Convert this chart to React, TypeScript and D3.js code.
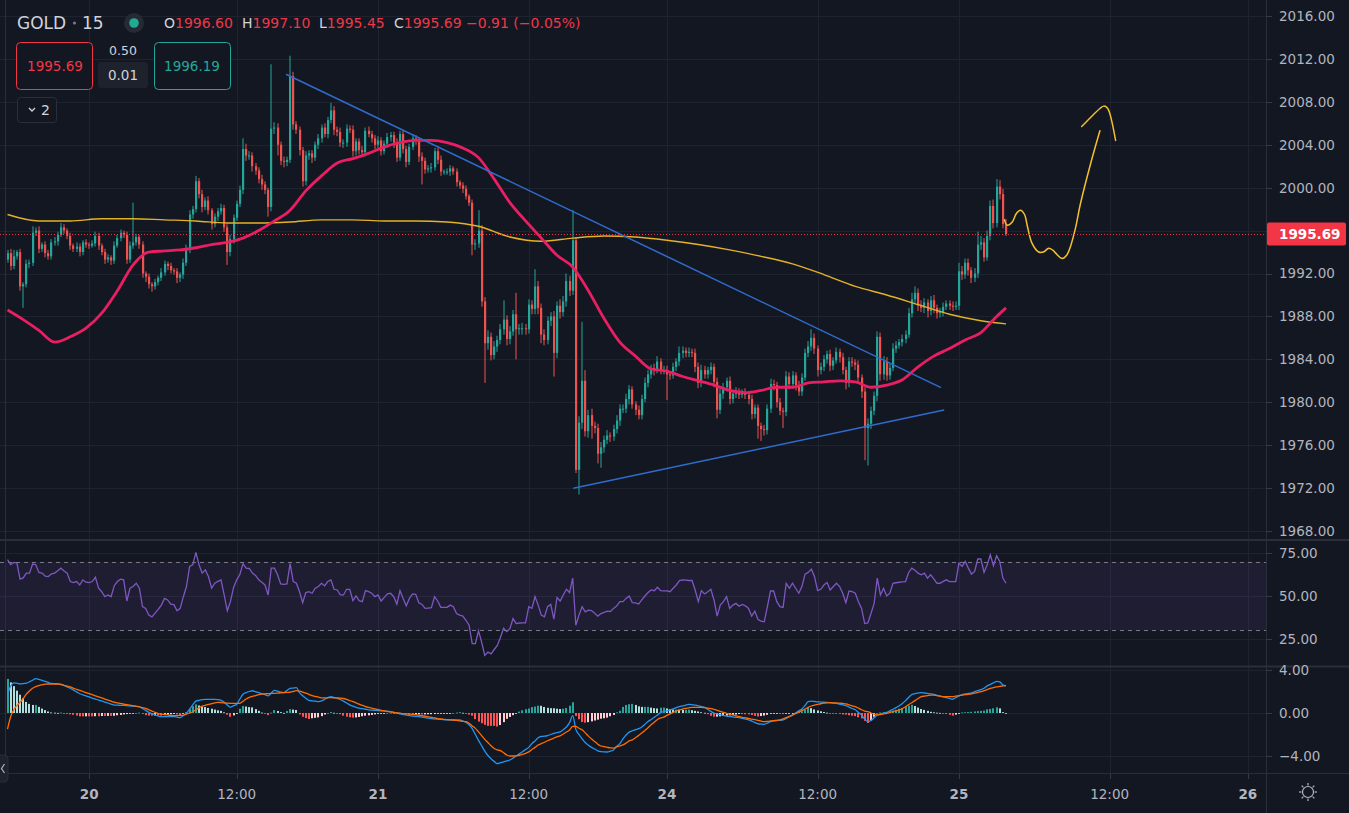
import React from 'react';
import * as d3 from 'd3';

const W = 1349;
const H = 813;
const PLOT_R = 1266;

// ---------- DATA ----------
const firstOpen = 1993.3;
const closes = [
  1993.9, 1992.7, 1993.6, 1994.0, 1990.8, 1991.0, 1992.9, 1993.0, 1995.8, 1996.0,
  1994.3, 1994.7, 1993.9, 1993.6, 1994.9, 1995.0, 1995.6, 1996.3, 1996.0, 1995.5,
  1994.6, 1994.3, 1994.5, 1994.0, 1994.9, 1994.7, 1994.6, 1994.8, 1995.5, 1994.6,
  1994.0, 1993.3, 1993.5, 1993.2, 1994.6, 1995.3, 1995.8, 1995.6, 1993.3, 1994.6,
  1994.9, 1995.4, 1994.7, 1992.0, 1991.7, 1991.0, 1990.8, 1991.2, 1991.6, 1992.1,
  1992.9, 1992.7, 1992.3, 1992.2, 1991.6, 1991.9, 1993.0, 1994.2, 1997.5, 1998.0,
  2000.6, 1999.4, 1998.2, 1998.8, 1997.9, 1996.6, 1997.3, 1997.8, 1998.1, 1996.3,
  1994.0, 1995.2, 1997.2, 1998.5, 1999.8, 2003.6, 2003.0, 2003.0, 2002.0, 2001.6,
  2000.8, 2000.3, 1999.8, 1998.2, 2005.5, 2005.6, 2004.0, 2002.5, 2002.4, 2002.6,
  2010.4, 2005.9, 2005.4, 2003.5, 2000.6, 2003.0, 2003.2, 2002.8, 2004.0, 2004.6,
  2005.6, 2005.0, 2006.3, 2007.2, 2005.4, 2005.2, 2004.2, 2004.2, 2005.5, 2005.4,
  2003.4, 2004.3, 2003.5, 2003.3, 2005.3, 2005.0, 2004.6, 2004.0, 2004.4, 2003.4,
  2004.1, 2004.7, 2004.9, 2004.2, 2002.8, 2005.0, 2003.6, 2002.4, 2003.8, 2004.6,
  2004.4, 2002.9, 2002.5, 2001.7, 2001.8, 2001.9, 2003.4, 2002.6, 2001.5, 2001.5,
  2001.5, 2001.8, 2001.5, 2000.5, 2000.2, 1999.9, 1999.2, 1998.6, 1994.7, 1994.8,
  1996.0, 1989.4, 1985.5, 1986.1, 1984.4, 1985.2, 1985.8, 1986.8, 1987.7, 1985.9,
  1986.6, 1988.2, 1986.8, 1986.9, 1986.9, 1986.8, 1989.1, 1988.7, 1990.8, 1988.8,
  1986.3, 1985.8, 1987.6, 1988.0, 1984.6, 1989.0, 1988.4, 1989.4, 1991.3, 1990.4,
  1995.1, 1973.7, 1978.1, 1982.0, 1977.3, 1978.8, 1977.8, 1977.6, 1975.2, 1975.8,
  1976.5, 1976.9, 1976.8, 1977.5, 1978.3, 1979.4, 1979.4, 1980.3, 1981.2, 1979.8,
  1979.3, 1978.8, 1980.3, 1981.8, 1982.6, 1983.2, 1983.0, 1983.8, 1983.0, 1983.0,
  1982.6, 1982.5, 1983.3, 1983.8, 1984.6, 1984.8, 1984.6, 1984.7, 1984.6, 1983.3,
  1981.8, 1983.0, 1982.6, 1983.0, 1983.3, 1981.9, 1979.3, 1980.8, 1981.4, 1982.0,
  1980.3, 1980.8, 1981.0, 1980.7, 1980.9, 1980.7, 1980.3, 1978.9, 1979.5, 1977.8,
  1977.5, 1977.4, 1979.4, 1981.7, 1981.6, 1980.0, 1979.2, 1979.1, 1982.4, 1981.7,
  1982.5, 1981.6, 1981.0, 1982.3, 1984.6, 1985.2, 1986.0, 1985.0, 1983.0, 1983.3,
  1984.0, 1984.5, 1983.4, 1983.9, 1984.7, 1984.2, 1983.0, 1981.8, 1983.8, 1983.7,
  1983.5, 1982.3, 1981.0, 1977.6, 1978.0, 1979.2, 1980.6, 1986.1, 1982.6, 1983.8,
  1982.5, 1983.2, 1985.0, 1985.3, 1985.6, 1985.9, 1986.3, 1988.3, 1989.6, 1990.2,
  1989.0, 1988.8, 1989.3, 1988.5, 1989.5, 1988.8, 1988.3, 1988.4, 1988.9, 1989.2,
  1989.0, 1988.9, 1989.0, 1992.2, 1991.9, 1993.0, 1992.3, 1991.6, 1992.0, 1994.7,
  1994.9, 1993.5, 1995.5, 1998.3, 1996.7, 2000.1, 1999.4, 1996.6, 1995.69,
];
// wick lengths above / below the body, in tenths of a dollar
const wickUp = [
  3,4,6,2,3,2,4,3,6,3, 4,2,3,3,3,4,3,4,3,2, 3,2,4,3,2,3,2,3,4,3, 2,3,3,2,4,3,3,2,3,4,
  37,3,2,3,2,3,2,3,2,4, 3,2,3,2,3,2,4,5,4,3, 5,3,4,3,4,2,3,3,4,3, 3,4,3,3,4,10,5,4,3,3,
  3,4,3,2,60,5,4,3,4,3, 19,4,3,3,3,4,3,3,3,4, 3,4,3,7,4,3,4,3,4,3, 4,3,3,4,3,4,3,3,4,3,
  3,4,3,3,4,3,4,3,3,4, 3,3,4,3,3,4,3,3,4,2, 3,3,2,3,2,3,3,2,3,4, 19,5,4,6,4,5,4,5,18,4,
  5,4,20,4,5,4,5,4,16,5, 4,5,4,4,5,4,6,5,7,5, 28,3,6,55,10,5,6,4,4,5, 4,5,3,4,5,4,4,5,4,3,
  3,4,4,5,4,3,4,5,3,4, 4,3,4,3,6,4,3,4,3,4, 4,5,4,3,4,3,4,5,4,3, 4,3,4,3,3,4,3,4,3,3,
  3,4,4,5,4,3,4,3,5,4, 4,3,4,4,4,5,8,4,3,4, 4,3,4,3,4,3,4,3,4,4, 3,4,3,4,5,4,4,5,4,5,
  4,4,5,4,3,4,4,5,6,6, 4,5,4,3,4,5,3,4,4,3, 3,4,4,8,5,4,4,3,5,12, 6,4,5,5,6,7,6,5,5,
];
const wickDn = [
  3,4,3,3,4,20,3,4,3,3, 4,3,4,3,3,3,4,2,3,3, 4,3,3,4,3,3,3,2,3,4, 3,4,3,4,3,2,3,3,4,3,
  3,3,4,4,5,4,5,3,3,3, 3,4,3,3,5,4,4,3,3,4, 3,4,5,3,4,5,3,4,3,4, 12,4,4,3,3,4,5,4,5,4,
  4,5,4,9,4,5,10,4,5,4, 3,5,4,5,5,4,4,5,3,4, 4,3,4,3,5,4,4,5,4,3, 5,4,4,3,4,3,4,4,3,4,
  3,4,4,5,4,3,4,5,3,3, 4,5,22,4,3,4,3,4,4,3, 3,4,3,4,3,4,3,3,10,5, 4,5,37,6,5,4,5,4,5,6,
  5,4,28,5,6,5,4,5,5,6, 8,5,4,5,22,5,6,4,5,5, 4,3,23,6,5,6,12,5,9,13, 5,4,5,4,4,5,4,4,5,4,
  5,4,4,3,4,4,5,3,4,4, 24,4,3,4,4,5,4,4,4,5, 5,4,4,4,4,5,8,4,5,4, 5,4,4,4,3,4,5,5,4,12,
  11,5,4,4,5,5,4,15,4,5, 4,5,4,4,3,4,4,5,6,4, 4,4,5,4,3,5,4,6,4,4, 5,4,6,30,35,5,4,5,6,5,
  5,4,3,4,3,4,4,3,4,4, 5,4,5,6,4,5,5,4,4,3, 4,4,3,4,5,4,5,5,4,4, 5,4,3,4,5,4,5,4,2,
];
const rsiValues = [
  71.1, 68.2, 69.5, 69.1, 59.8, 60.5, 63.3, 63.3, 68.6, 68.2,
  63.7, 63.3, 61.5, 61.3, 62.9, 63.3, 64.7, 66.2, 64.5, 63.3,
  58.4, 57.8, 58.4, 56.4, 59.4, 58.0, 57.8, 58.4, 60.9, 54.5,
  52.5, 49.6, 50.6, 49.6, 56.0, 58.4, 59.8, 59.4, 47.1, 54.5,
  55.5, 57.4, 54.5, 43.8, 42.8, 38.9, 37.9, 40.0, 42.2, 44.7,
  48.6, 47.7, 45.3, 45.0, 41.4, 42.8, 49.6, 55.5, 67.2, 68.2,
  75.4, 68.2, 63.3, 65.2, 61.3, 54.5, 57.4, 58.5, 59.4, 50.6,
  41.4, 46.7, 55.0, 59.4, 62.5, 68.8, 66.2, 66.0, 63.3, 62.0,
  59.4, 58.0, 56.4, 50.6, 66.2, 66.2, 62.3, 57.0, 56.8, 57.0,
  68.8, 58.4, 57.4, 52.5, 46.1, 52.0, 52.5, 51.6, 54.5, 55.5,
  57.4, 55.9, 58.4, 59.4, 53.9, 53.5, 50.6, 50.6, 53.9, 53.9,
  47.3, 50.0, 47.3, 46.7, 53.1, 52.5, 51.6, 49.6, 50.6, 47.1,
  49.2, 51.2, 51.6, 49.6, 45.3, 53.1, 48.6, 44.3, 48.6, 51.2,
  51.0, 46.1, 45.1, 42.8, 43.0, 43.2, 49.6, 47.1, 43.4, 43.4,
  43.4, 44.7, 43.8, 39.8, 38.9, 38.3, 35.9, 33.0, 22.3, 22.3,
  29.7, 23.2, 15.4, 17.4, 16.4, 18.9, 21.3, 26.0, 31.3, 29.3,
  31.0, 36.9, 34.0, 34.3, 34.4, 34.4, 43.8, 42.8, 49.6, 44.7,
  38.9, 37.9, 43.8, 45.1, 36.5, 49.2, 47.1, 50.6, 53.9, 52.0,
  60.4, 33.0, 38.9, 43.8, 40.8, 41.8, 41.5, 40.0, 38.3, 39.8,
  40.5, 41.2, 41.0, 42.8, 44.1, 46.7, 46.7, 48.6, 50.0, 46.1,
  46.0, 45.3, 47.7, 50.0, 52.0, 53.5, 53.1, 55.1, 53.1, 53.0,
  53.0, 52.5, 54.5, 56.4, 59.0, 59.4, 59.2, 59.0, 59.0, 53.5,
  46.7, 53.1, 51.2, 52.5, 53.9, 47.7, 38.3, 44.7, 46.7, 49.6,
  42.8, 44.7, 45.7, 44.1, 45.1, 44.3, 42.8, 38.3, 41.2, 36.3,
  35.4, 35.0, 43.8, 52.9, 52.9, 46.7, 43.8, 43.4, 57.4, 54.5,
  57.4, 54.5, 51.6, 55.5, 62.7, 63.7, 65.6, 61.3, 53.1, 53.9,
  56.4, 57.8, 53.5, 55.5, 57.4, 55.5, 51.6, 46.1, 52.9, 52.5,
  51.6, 46.7, 42.8, 34.0, 34.4, 39.8, 45.7, 60.4, 50.6, 54.5,
  50.0, 51.6, 57.4, 57.7, 58.0, 58.2, 58.4, 63.7, 66.2, 65.0,
  63.3, 62.3, 63.3, 60.4, 62.3, 60.0, 57.4, 57.4, 58.5, 59.4,
  58.4, 58.4, 58.4, 69.1, 67.2, 70.1, 66.2, 62.7, 64.3, 71.5,
  71.5, 63.7, 68.2, 74.0, 67.6, 73.4, 70.1, 60.4, 57.4,
];
const macdValues = [
  1.67, 2.5, 2.8, 2.78, 2.7, 2.74, 2.78, 2.9, 3.05, 3.2,
  3.12, 3.03, 2.95, 2.84, 2.75, 2.73, 2.71, 2.69, 2.56, 2.43,
  2.3, 2.13, 1.96, 1.79, 1.69, 1.59, 1.49, 1.39, 1.3, 1.2,
  1.12, 1.02, 0.93, 0.83, 0.74, 0.73, 0.71, 0.7, 0.68, 0.66,
  0.64, 0.62, 0.6, 0.42, 0.24, 0.06, -0.06, -0.17, -0.28, -0.34,
  -0.34, -0.34, -0.34, -0.34, -0.38, -0.43, -0.24, -0.03, 0.35, 0.75,
  1.1, 1.18, 1.24, 1.27, 1.27, 1.27, 1.27, 1.24, 1.17, 1.0,
  0.75, 0.55, 0.68, 0.82, 1.3, 1.75, 1.9, 2.0, 2.07, 1.98,
  1.9, 1.8, 1.7, 1.6, 1.85, 2.1, 2.04, 1.95, 1.9, 2.1,
  2.29, 2.32, 2.36, 1.9, 1.6, 1.38, 1.18, 1.13, 1.1, 1.06,
  1.12, 1.27, 1.42, 1.52, 1.44, 1.35, 1.27, 1.1, 0.93, 0.76,
  0.63, 0.53, 0.45, 0.4, 0.35, 0.3, 0.27, 0.25, 0.23, 0.21,
  0.18, 0.15, 0.12, 0.05, -0.02, -0.08, -0.14, -0.2, -0.25, -0.28,
  -0.31, -0.33, -0.38, -0.43, -0.48, -0.52, -0.55, -0.57, -0.6, -0.62,
  -0.64, -0.65, -0.65, -0.65, -0.65, -0.75, -0.88, -1.1, -1.45, -2.0,
  -2.55, -3.05, -3.55, -3.95, -4.25, -4.5, -4.7, -4.62, -4.55, -4.45,
  -4.37, -4.2, -4.0, -3.8, -3.6, -3.4, -3.2, -2.85, -2.6, -2.3,
  -2.18, -2.16, -2.1, -2.0, -1.89, -1.82, -1.75, -1.55, -1.3, -0.9,
  -0.25, -1.52, -2.0, -2.4, -2.75, -3.0, -3.2, -3.35, -3.52, -3.6,
  -3.62, -3.63, -3.55, -3.44, -3.1, -2.85, -2.4, -2.05, -1.78, -1.65,
  -1.55, -1.46, -1.3, -1.05, -0.8, -0.6, -0.4, -0.18, 0.03, 0.12,
  0.2, 0.28, 0.38, 0.5, 0.59, 0.66, 0.74, 0.8, 0.78, 0.73,
  0.67, 0.6, 0.52, 0.35, 0.15, 0.0, -0.09, -0.15, -0.22, -0.28,
  -0.32, -0.36, -0.4, -0.43, -0.5, -0.57, -0.63, -0.75, -0.88, -1.0,
  -1.03, -1.05, -0.95, -0.8, -0.74, -0.71, -0.68, -0.65, -0.5, -0.35,
  -0.2, 0.0, 0.2, 0.38, 0.7, 1.05, 1.1, 1.07, 1.04, 1.02,
  1.0, 0.98, 0.95, 0.92, 0.9, 0.83, 0.76, 0.69, 0.55, 0.42,
  0.3, 0.05, -0.2, -0.55, -0.81, -0.7, -0.45, -0.19, -0.1, -0.02,
  0.06, 0.2, 0.35, 0.5, 0.68, 0.88, 1.15, 1.45, 1.72, 1.8,
  1.85, 1.89, 1.86, 1.82, 1.78, 1.73, 1.65, 1.58, 1.51, 1.43,
  1.35, 1.28, 1.42, 1.58, 1.72, 1.77, 1.82, 1.88, 1.98, 2.08,
  2.18, 2.3, 2.52, 2.67, 2.8, 2.95, 2.9, 2.6, 2.54,
];
const signalValues = [
  -1.5, -0.35, 0.3, 0.7, 1.0, 1.35, 1.75, 2.05, 2.3, 2.45,
  2.55, 2.62, 2.68, 2.7, 2.7, 2.7, 2.7, 2.65, 2.58, 2.51,
  2.42, 2.3, 2.2, 2.1, 2.0, 1.9, 1.8, 1.7, 1.6, 1.5,
  1.4, 1.3, 1.2, 1.1, 1.0, 0.94, 0.89, 0.83, 0.78, 0.73,
  0.68, 0.62, 0.56, 0.5, 0.44, 0.3, 0.18, 0.06, -0.05, -0.1,
  -0.14, -0.18, -0.22, -0.25, -0.24, -0.22, -0.19, -0.1, 0.0, 0.12,
  0.3, 0.48, 0.64, 0.72, 0.8, 0.87, 0.95, 0.99, 0.97, 0.94,
  0.91, 0.9, 0.9, 0.9, 0.9, 1.1, 1.3, 1.45, 1.55, 1.62,
  1.7, 1.76, 1.78, 1.8, 1.82, 1.83, 1.85, 1.87, 1.89, 1.91,
  1.93, 2.0, 2.08, 2.03, 1.95, 1.85, 1.74, 1.62, 1.55, 1.47,
  1.41, 1.41, 1.42, 1.43, 1.42, 1.4, 1.38, 1.35, 1.27, 1.16,
  1.06, 0.94, 0.82, 0.7, 0.6, 0.52, 0.45, 0.38, 0.31, 0.25,
  0.2, 0.15, 0.1, 0.06, 0.02, -0.02, -0.06, -0.08, -0.1, -0.12,
  -0.16, -0.2, -0.24, -0.3, -0.36, -0.41, -0.46, -0.52, -0.56, -0.59,
  -0.62, -0.64, -0.65, -0.69, -0.73, -0.77, -0.81, -0.95, -1.2, -1.43,
  -1.75, -2.1, -2.45, -2.75, -3.05, -3.3, -3.44, -3.5, -3.7, -3.91,
  -4.0, -4.0, -3.98, -3.93, -3.85, -3.75, -3.62, -3.4, -3.2, -2.98,
  -2.85, -2.72, -2.58, -2.45, -2.33, -2.22, -2.12, -1.95, -1.77, -1.58,
  -1.25, -1.25, -1.42, -1.56, -1.85, -2.15, -2.42, -2.65, -2.9, -3.07,
  -3.13, -3.2, -3.25, -3.26, -3.16, -3.06, -2.97, -2.8, -2.6, -2.5,
  -2.3, -2.08, -1.87, -1.62, -1.37, -1.1, -0.85, -0.6, -0.46, -0.38,
  -0.22, -0.08, 0.06, 0.18, 0.28, 0.37, 0.43, 0.48, 0.52, 0.53,
  0.53, 0.53, 0.5, 0.46, 0.41, 0.34, 0.25, 0.16, 0.06, -0.03,
  -0.1, -0.18, -0.26, -0.34, -0.4, -0.45, -0.5, -0.56, -0.62, -0.68,
  -0.75, -0.81, -0.78, -0.74, -0.7, -0.68, -0.65, -0.55, -0.43, -0.32,
  -0.19, -0.05, 0.08, 0.22, 0.37, 0.52, 0.65, 0.74, 0.8, 0.86,
  0.91, 0.95, 0.96, 0.95, 0.93, 0.91, 0.9, 0.84, 0.76, 0.67,
  0.59, 0.45, 0.3, 0.18, 0.12, 0.0, -0.1, -0.19, -0.14, -0.08,
  -0.03, 0.05, 0.13, 0.2, 0.28, 0.42, 0.58, 0.78, 0.96, 1.15,
  1.35, 1.52, 1.57, 1.62, 1.67, 1.67, 1.62, 1.57, 1.52, 1.52,
  1.52, 1.52, 1.57, 1.62, 1.67, 1.7, 1.73, 1.77, 1.84, 1.91,
  1.98, 2.08, 2.18, 2.29, 2.36, 2.42, 2.47, 2.52, 2.54,
];
// moving averages (bar index, value)
const maFastBars = [
  0, 5, 10, 15, 20, 25, 30, 35, 40, 45, 50, 55, 60, 65, 70, 75, 80, 85, 90, 95,
  100, 105, 110, 115, 120, 125, 130, 135, 140, 145, 150, 155, 160, 165, 170, 175, 180, 185, 190, 195,
  200, 205, 210, 215, 220, 225, 230, 235, 240, 245, 250, 255, 260, 265, 270, 275, 280, 285, 290, 295,
  300, 305, 310, 315, 318,
];
const maFastValues = [
  1988.6, 1987.7, 1986.7, 1985.6, 1986.1, 1986.9, 1988.3, 1990.4, 1992.8, 1994.0,
  1994.1, 1994.2, 1994.4, 1994.7, 1994.9, 1995.3, 1996.0, 1996.9, 1997.9, 1999.7,
  2001.1, 2002.3, 2002.7, 2003.2, 2003.8, 2004.2, 2004.4, 2004.4, 2004.2, 2003.7,
  2002.8, 2000.8, 1998.6, 1996.9, 1995.3, 1993.7, 1992.6, 1990.4, 1987.8, 1985.6,
  1984.3, 1983.1, 1982.9, 1982.4, 1982.0, 1981.6, 1981.1, 1980.9, 1981.1, 1981.4,
  1981.4, 1981.8, 1981.9, 1982.0, 1981.9, 1981.4, 1981.6, 1982.1, 1983.3, 1984.3,
  1985.0, 1985.8, 1986.5, 1988.0, 1988.8,
];
const maSlowBars = [
  0, 10, 20, 30, 40, 50, 60, 70, 80, 90, 100, 110, 120, 130, 140, 150, 160,
  170, 180, 190, 200, 210, 220, 230, 240, 250, 260, 270, 280, 290, 300, 310, 318,
];
const maSlowValues = [
  1997.5, 1996.9, 1996.9, 1997.1, 1997.1, 1997.0, 1996.9, 1996.7, 1996.7, 1996.8, 1997.0, 1997.0,
  1996.9, 1996.9, 1996.8, 1996.4, 1995.4, 1995.0, 1995.3, 1995.5, 1995.4, 1995.1, 1994.7,
  1994.2, 1993.6, 1992.9, 1991.9, 1990.8, 1990.0, 1989.1, 1988.2, 1987.6, 1987.3,
];
// user drawings (bar index, price)
const trendDown = [[88.7, 2010.57], [297.3, 1981.36]];
const trendUp = [[180.2, 1971.98], [298.3, 1979.28]];
const projectionA = [
  [317.5, 1997.0], [318.4, 1996.5], [320.0, 1996.8], [321.3, 1997.6], [322.6, 1997.9],
  [323.9, 1997.5], [324.8, 1996.4], [326.3, 1994.8], [328.4, 1994.0], [329.9, 1994.0],
  [331.6, 1994.35], [332.8, 1994.2], [333.8, 1993.9], [335.9, 1993.4], [337.3, 1993.7],
  [338.5, 1994.5], [340.1, 1996.2], [341.7, 1998.5], [345.0, 2002.3], [347.9, 2005.3],
];
const projectionB = [
  [342.1, 2005.7], [345.8, 2006.8], [348.0, 2007.4], [349.1, 2007.6], [350.0, 2007.5],
  [350.7, 2007.2], [351.6, 2006.3], [352.9, 2004.4],
];
const priceTicks = [2016, 2012, 2008, 2004, 2000, 1996, 1992, 1988, 1984, 1980, 1976, 1972, 1968];
const rsiTicks = [75, 50, 25];
const macdTicks = [4, 0, -4];
const timeTickBars = [26, 73, 118, 166, 210, 258, 303, 351, 395];
const timeTickLabels = ['20', '12:00', '21', '12:00', '24', '12:00', '25', '12:00', '26'];
const lastPrice = 1995.69;
const symbolName = 'GOLD';
const symbolInterval = '15';
const ohlcLabels = ['O', 'H', 'L', 'C'];
const ohlcValues = ['1996.60', '1997.10', '1995.45', '1995.69'];
const ohlcX = [164, 242, 319, 394];
const changeText = '−0.91 (−0.05%)';
const bidPrice = '1995.69';
const askPrice = '1996.19';
const spreadText = '0.50';
const qtyText = '0.01';

// ---------- STYLE ----------
const BG = '#131722';
const GRID = '#1f2330';
const SEP = '#2a2e39';
const TICK = '#363a45';
const TXT = '#b2b5be';
const UP = '#26a69a';
const DOWN = '#ef5350';
const RED = '#f23645';
const FONT = "'DejaVu Sans', Roboto, sans-serif";

export default function App() {
  const x = d3.scaleLinear().domain([0, 318]).range([7.5, 7.5 + 3.14 * 318]);
  const yP = d3.scaleLinear().domain([1968, 2016]).range([531, 16]);
  const yR = d3.scaleLinear().domain([25, 75]).range([639, 553]);
  const yM = d3.scaleLinear().domain([-4, 4]).range([756, 670]);

  const candles = closes.map((c, i) => {
    const o = i === 0 ? firstOpen : closes[i - 1];
    const hi = Math.max(o, c) + wickUp[i] / 10;
    const lo = Math.min(o, c) - wickDn[i] / 10;
    return { i, o, c, hi, lo };
  });

  const lineP = d3.line<number[]>().x((d) => x(d[0])).y((d) => yP(d[1]));
  const smoothP = d3
    .line<number[]>()
    .x((d) => x(d[0]))
    .y((d) => yP(d[1]))
    .curve(d3.curveMonotoneX);
  const freeP = d3
    .line<number[]>()
    .x((d) => x(d[0]))
    .y((d) => yP(d[1]))
    .curve(d3.curveCatmullRom.alpha(0.5));

  const fastPath = smoothP(maFastBars.map((b, k) => [b, maFastValues[k]])) || '';
  const slowPath = smoothP(maSlowBars.map((b, k) => [b, maSlowValues[k]])) || '';

  const rsiPath =
    d3
      .line<number>()
      .x((_, i) => x(i))
      .y((v) => yR(v))(rsiValues) || '';
  const macdPath =
    d3
      .line<number>()
      .x((_, i) => x(i))
      .y((v) => yM(v))
      .curve(d3.curveMonotoneX)(macdValues) || '';
  const sigPath =
    d3
      .line<number>()
      .x((_, i) => x(i))
      .y((v) => yM(v))
      .curve(d3.curveMonotoneX)(signalValues) || '';

  const hist = macdValues.map((m, i) => m - signalValues[i]);
  const histColor = (i: number) => {
    const h = hist[i];
    const prev = i === 0 ? h : hist[i - 1];
    if (h >= 0) return h >= prev ? '#26a69a' : '#b2dfdb';
    return h > prev ? '#ffcdd2' : '#ff5252';
  };

  const vGridX = timeTickBars.map((b) => Math.round(x(b)) + 0.5);
  const lastY = yP(lastPrice);
  const hy = (v: number) => Math.round(v) + 0.5;

  return (
    <div style={{ position: 'fixed', left: 0, top: 0, width: W, height: H, background: BG }}>
      <svg width={W} height={H} style={{ display: 'block', fontFamily: FONT }}>
        <defs>
          <clipPath id="mainClip">
            <rect x={0} y={0} width={PLOT_R} height={539} />
          </clipPath>
          <clipPath id="rsiClip">
            <rect x={0} y={541} width={PLOT_R} height={124} />
          </clipPath>
          <clipPath id="macdClip">
            <rect x={0} y={668} width={PLOT_R} height={104} />
          </clipPath>
        </defs>
        <rect x={0} y={0} width={W} height={H} fill={BG} />

        {/* grids */}
        {vGridX.map((gx, k) => (
          <line key={'vg' + k} x1={gx} x2={gx} y1={0} y2={773} stroke={GRID} strokeWidth={1} />
        ))}
        {priceTicks.map((t) => (
          <line key={'pg' + t} x1={0} x2={PLOT_R} y1={hy(yP(t))} y2={hy(yP(t))} stroke={GRID} />
        ))}
        {rsiTicks.map((t) => (
          <line key={'rg' + t} x1={0} x2={PLOT_R} y1={hy(yR(t))} y2={hy(yR(t))} stroke={GRID} />
        ))}
        {macdTicks.map((t) => (
          <line key={'mg' + t} x1={0} x2={PLOT_R} y1={hy(yM(t))} y2={hy(yM(t))} stroke={GRID} />
        ))}

        {/* main pane */}
        <g clipPath="url(#mainClip)">
          {candles.map((d) => {
            const px = Math.round(x(d.i));
            const col = d.c >= d.o ? UP : DOWN;
            const top = yP(Math.max(d.o, d.c));
            const bot = yP(Math.min(d.o, d.c));
            return (
              <g key={'c' + d.i}>
                <rect x={px - 0.5} y={yP(d.hi)} width={1} height={yP(d.lo) - yP(d.hi)} fill={col} />
                <rect x={px - 1} y={top} width={2.2} height={Math.max(1, bot - top)} fill={col} />
              </g>
            );
          })}
          <path d={slowPath} fill="none" stroke="#e3b226" strokeWidth={1.4} />
          <path d={fastPath} fill="none" stroke="#e91e63" strokeWidth={2.8} />
          <path d={lineP(trendDown) || ''} fill="none" stroke="#2f6ccc" strokeWidth={1.5} />
          <path d={lineP(trendUp) || ''} fill="none" stroke="#2f6ccc" strokeWidth={1.5} />
          <path d={freeP(projectionA) || ''} fill="none" stroke="#f5c02e" strokeWidth={1.5} strokeLinecap="round" />
          <path d={freeP(projectionB) || ''} fill="none" stroke="#f5c02e" strokeWidth={1.5} strokeLinecap="round" />
          <line x1={0} x2={PLOT_R} y1={hy(lastY)} y2={hy(lastY)} stroke={RED} strokeWidth={1} strokeDasharray="1 2" />
        </g>

        {/* RSI pane */}
        <g clipPath="url(#rsiClip)">
          <rect x={0} y={yR(70)} width={PLOT_R} height={yR(30) - yR(70)} fill="rgba(126,87,194,0.1)" />
          <line x1={0} x2={PLOT_R} y1={hy(yR(70))} y2={hy(yR(70))} stroke="#787b86" strokeDasharray="4 4" />
          <line x1={0} x2={PLOT_R} y1={hy(yR(30))} y2={hy(yR(30))} stroke="#787b86" strokeDasharray="4 4" />
          <path d={rsiPath} fill="none" stroke="#7e57c2" strokeWidth={1.3} />
        </g>

        {/* MACD pane */}
        <g clipPath="url(#macdClip)">
          {hist.map((h, i) => {
            const px = Math.round(x(i));
            const y0 = yM(0);
            const y1 = yM(h);
            return (
              <rect key={'h' + i} x={px - 1} y={Math.min(y0, y1)} width={2} height={Math.max(0.8, Math.abs(y1 - y0))} fill={histColor(i)} />
            );
          })}
          <path d={macdPath} fill="none" stroke="#2196f3" strokeWidth={1.3} />
          <path d={sigPath} fill="none" stroke="#ff6d00" strokeWidth={1.3} />
        </g>

        {/* separators */}
        <line x1={5.5} x2={5.5} y1={0} y2={773} stroke={SEP} />
        <line x1={0} x2={W} y1={540} y2={540} stroke={SEP} strokeWidth={2} />
        <line x1={0} x2={W} y1={666.5} y2={666.5} stroke={SEP} strokeWidth={2} />
        <line x1={0} x2={W} y1={773.5} y2={773.5} stroke={SEP} />
        <line x1={PLOT_R + 0.5} x2={PLOT_R + 0.5} y1={0} y2={H} stroke={SEP} />

        {/* price axis */}
        {priceTicks.map((t) => (
          <line key={'ptk' + t} x1={PLOT_R} x2={PLOT_R + 6} y1={hy(yP(t))} y2={hy(yP(t))} stroke={TICK} />
        ))}
        {priceTicks
          .filter((t) => Math.abs(yP(t) - lastY) > 13)
          .map((t) => (
            <text key={'pt' + t} x={1279} y={yP(t)} dy="0.36em" fill={TXT} fontSize={13.5}>
              {t.toFixed(2)}
            </text>
          ))}
        <rect x={PLOT_R + 1} y={lastY - 11.5} width={79} height={23} rx={2} fill={RED} />
        <text x={1279} y={lastY} dy="0.36em" fill="#ffffff" fontSize={13.5} fontWeight={600}>
          {lastPrice.toFixed(2)}
        </text>
        {rsiTicks.map((t) => (
          <g key={'rt' + t}>
            <line x1={PLOT_R} x2={PLOT_R + 6} y1={hy(yR(t))} y2={hy(yR(t))} stroke={TICK} />
            <text x={1279} y={yR(t)} dy="0.36em" fill={TXT} fontSize={13.5}>
              {t.toFixed(2)}
            </text>
          </g>
        ))}
        {macdTicks.map((t) => (
          <g key={'mt' + t}>
            <line x1={PLOT_R} x2={PLOT_R + 6} y1={hy(yM(t))} y2={hy(yM(t))} stroke={TICK} />
            <text x={1279} y={yM(t)} dy="0.36em" fill={TXT} fontSize={13.5}>
              {t < 0 ? '−' + Math.abs(t).toFixed(2) : t.toFixed(2)}
            </text>
          </g>
        ))}

        {/* time axis */}
        {timeTickBars.map((b, k) => (
          <g key={'tt' + k}>
            <line x1={vGridX[k]} x2={vGridX[k]} y1={774} y2={779} stroke={TICK} />
            <text
              x={x(b)}
              y={794}
              dy="0.36em"
              textAnchor="middle"
              fill={TXT}
              fontSize={13.5}
              fontWeight={timeTickLabels[k].includes(':') ? 400 : 700}
            >
              {timeTickLabels[k]}
            </text>
          </g>
        ))}
        {/* settings gear */}
        <g transform="translate(1308,792)" stroke={TXT} strokeWidth={1.2} fill="none">
          <circle r={5.5} />
          {d3.range(8).map((k) => {
            const a = (k * Math.PI) / 4;
            return <line key={'gr' + k} x1={Math.cos(a) * 6.5} y1={Math.sin(a) * 6.5} x2={Math.cos(a) * 9} y2={Math.sin(a) * 9} />;
          })}
        </g>
        {/* left collapse tab */}
        <rect x={-5} y={755} width={13} height={27} rx={4} fill="#1e222d" stroke={SEP} />
        <path d="M4.5,764 L1.5,768.5 L4.5,773" fill="none" stroke={TXT} strokeWidth={1.2} />

        {/* header */}
        <text x={17} y={29} fill="#d1d4dc" fontSize={17}>
          {symbolName}
        </text>
        <circle cx={74.5} cy={23} r={1.6} fill="#787b86" />
        <text x={82} y={29} fill="#d1d4dc" fontSize={17}>
          {symbolInterval}
        </text>
        <circle cx={134} cy={23} r={10} fill="#262a35" />
        <circle cx={134} cy={23} r={4.8} fill="#22ab94" />
        {ohlcLabels.map((lab, k) => (
          <text key={'ohlc' + k} x={ohlcX[k]} y={28} fontSize={14}>
            <tspan fill="#d1d4dc">{lab}</tspan>
            <tspan fill={RED}>{ohlcValues[k]}</tspan>
          </text>
        ))}
        <text x={466} y={28} fontSize={14} fill={RED}>
          {changeText}
        </text>

        {/* trading boxes */}
        <rect x={16.5} y={42.5} width={76} height={47} rx={4} fill={BG} stroke={RED} />
        <text x={55} y={66} dy="0.36em" textAnchor="middle" fill={RED} fontSize={13.5}>
          {bidPrice}
        </text>
        <text x={123} y={50} dy="0.36em" textAnchor="middle" fill="#d1d4dc" fontSize={12.5}>
          {spreadText}
        </text>
        <rect x={98} y={62} width={50} height={26} rx={3} fill="#1e222d" />
        <text x={123} y={75.5} dy="0.36em" textAnchor="middle" fill="#d1d4dc" fontSize={13.5}>
          {qtyText}
        </text>
        <rect x={154.5} y={42.5} width={76} height={47} rx={4} fill={BG} stroke={UP} />
        <text x={192} y={66} dy="0.36em" textAnchor="middle" fill={UP} fontSize={13.5}>
          {askPrice}
        </text>
        <rect x={17.5} y={97.5} width={39} height={25} rx={3} fill={BG} stroke={SEP} />
        <path d="M29,108 L32,111 L35,108" fill="none" stroke="#d1d4dc" strokeWidth={1.3} />
        <text x={41} y={110} dy="0.36em" fill="#d1d4dc" fontSize={14}>
          2
        </text>
      </svg>
    </div>
  );
}
